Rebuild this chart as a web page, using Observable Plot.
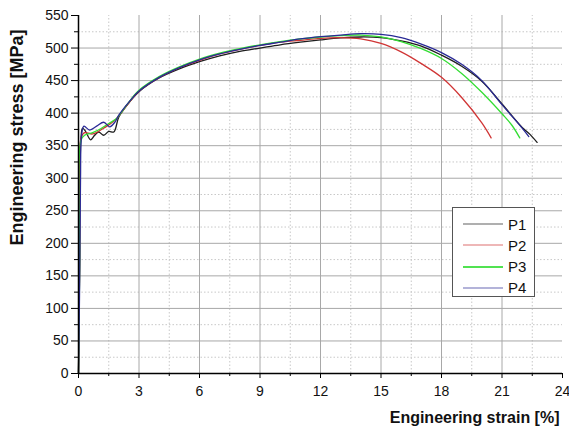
<!DOCTYPE html>
<html>
<head>
<meta charset="utf-8">
<script src="https://cdn.jsdelivr.net/npm/d3@7"></script>
<script src="https://cdn.jsdelivr.net/npm/@observablehq/plot@0.6"></script>
<style>
  body { margin: 0; background: #fff; font-family: "Liberation Sans", Arial, sans-serif; }
  #wrap { position: relative; width: 569px; height: 437px; }
  #legend { position: absolute; left: 452px; top: 207px; width: 81px; height: 88px;
            border: 1px solid #555; background: #fff; box-sizing: content-box; }
  .item { position: absolute; left: 0; height: 20px; display: flex; align-items: center; }
  .item svg { margin-left: 10px; }
  .item span { margin-left: 5px; font-size: 15px; color: #111; }
</style>
</head>
<body>
<div id="wrap"><div id="chart"></div><div id="legend"></div></div>
<script>
const seriesNames = ["P1", "P2", "P3", "P4"];
const seriesColors = ["#1e1e1e", "#d03535", "#33dd33", "#2a2a96"];

const strainP1 = [0, 0.06, 0.12, 0.2, 0.35, 0.6, 0.8, 1.0, 1.25, 1.5, 1.75, 2.0, 2.5, 3, 4, 5, 6, 7, 8, 9, 10, 11, 12, 13, 14, 15, 16, 17, 18, 19, 20, 21, 22, 22.4, 22.74];
const stressP1 = [0, 180, 360, 377, 372, 359, 366, 371, 366, 372, 371, 394, 416, 433, 454, 468, 479, 488, 495, 500, 505, 509, 512.5, 515.5, 517, 516, 511, 503, 489, 472, 449, 414, 378, 367, 355];

const strainP2 = [0, 0.06, 0.13, 0.3, 0.7, 1.2, 1.5, 1.8, 2.0, 2.5, 3, 4, 5, 6, 7, 8, 9, 10, 11, 12, 13, 14, 15, 16, 17, 18, 19, 20, 20.46];
const stressP2 = [0, 180, 362, 370, 368, 376, 382, 389, 396, 416, 434, 455, 470, 481, 491, 498, 504, 509, 512, 515, 516, 514, 507, 494, 476, 455, 424, 385, 362];

const strainP3 = [0, 0.06, 0.12, 0.3, 0.7, 1.1, 1.5, 1.9, 2.1, 2.5, 3, 4, 5, 6, 7, 8, 9, 10, 11, 12, 13, 14, 15, 16, 17, 18, 19, 20, 21, 21.5, 21.88];
const stressP3 = [0, 175, 358, 366, 370, 376, 384, 392, 400, 417, 435, 456, 471, 483, 492, 499, 505, 510, 514, 517, 519, 520, 517, 510, 499, 484, 461, 432, 399, 381, 362];

const strainP4 = [0, 0.05, 0.1, 0.15, 0.27, 0.55, 0.9, 1.25, 1.55, 1.8, 2.0, 2.5, 3, 4, 5, 6, 7, 8, 9, 10, 11, 12, 13, 14, 15, 16, 17, 18, 19, 20, 21, 22, 22.33];
const stressP4 = [0, 120, 300, 365, 380, 374, 380, 386, 379, 386, 397, 417, 434, 455, 470, 482, 491, 498, 504, 509, 514, 517.5, 520, 522, 521, 516, 506, 493, 475, 450, 413, 377, 364];

const xMajorTicks = [0, 3, 6, 9, 12, 15, 18, 21, 24];
const xMinorTicks = [1.5, 4.5, 7.5, 10.5, 13.5, 16.5, 19.5, 22.5];
const yMajorTicks = [0, 50, 100, 150, 200, 250, 300, 350, 400, 450, 500, 550];
const yMinorTicks = [25, 75, 125, 175, 225, 275, 325, 375, 425, 475, 525];

const xLabel = "Engineering strain [%]";
const yLabel = "Engineering stress [MPa]";

const allStrain = [strainP1, strainP2, strainP3, strainP4];
const allStress = [stressP1, stressP2, stressP3, stressP4];
const rows = [];
seriesNames.forEach((s, i) => {
  allStrain[i].forEach((x, j) => rows.push({series: s, strain: x, stress: allStress[i][j]}));
});

const chart = Plot.plot({
  width: 569, height: 437,
  marginLeft: 78, marginRight: 7, marginTop: 15, marginBottom: 64,
  style: {fontFamily: "'Liberation Sans', Arial, sans-serif", fontSize: "14px", color: "#111", background: "#fff"},
  x: {domain: [0, 24]},
  y: {domain: [0, 550]},
  color: {domain: seriesNames, range: seriesColors},
  marks: [
    Plot.ruleX(xMinorTicks, {y1: 0, y2: 550, stroke: "#c8c8c8", strokeDasharray: "1.5,2", strokeWidth: 1}),
    Plot.ruleY(yMinorTicks, {x1: 0, x2: 24, stroke: "#c8c8c8", strokeDasharray: "1.5,2", strokeWidth: 1}),
    Plot.ruleX(xMajorTicks.filter(d => d > 0 && d < 24), {y1: 0, y2: 550, stroke: "#a8a8a8", strokeWidth: 1}),
    Plot.ruleY(yMajorTicks.filter(d => d > 0 && d < 550), {x1: 0, x2: 24, stroke: "#a8a8a8", strokeWidth: 1}),
    Plot.line(rows, {x: "strain", y: "stress", z: "series", stroke: "series", strokeWidth: 1.3, curve: "catmull-rom"}),
    Plot.axisX({ticks: xMinorTicks, tickSize: 3, tickFormat: () => "", label: null, stroke: "#000"}),
    Plot.axisX({ticks: xMajorTicks, tickSize: 5, tickPadding: 8, label: null, fontSize: 14, stroke: "#000"}),
    Plot.axisY({ticks: yMinorTicks, tickSize: 4, tickFormat: () => "", label: null, stroke: "#000"}),
    Plot.axisY({ticks: yMajorTicks, tickSize: 7, tickPadding: 3, label: null, fontSize: 14, stroke: "#000"}),
    Plot.ruleX([0], {stroke: "#000", strokeWidth: 1.5}),
    Plot.ruleY([0], {stroke: "#000", strokeWidth: 1.5}),
    Plot.text([yLabel], {frameAnchor: "top-left", dx: -61, dy: 122, rotate: -90, text: d => d,
      fontWeight: "bold", fontSize: 18, fill: "#111", textAnchor: "middle", lineAnchor: "middle"}),
    Plot.text([xLabel], {frameAnchor: "bottom-right", dx: -3, dy: 44, text: d => d,
      fontWeight: "bold", fontSize: 16, fill: "#111", textAnchor: "end", lineAnchor: "middle"})
  ]
});
document.getElementById("chart").appendChild(chart);

const legend = document.getElementById("legend");
seriesNames.forEach((s, i) => {
  const item = document.createElement("div");
  item.className = "item";
  item.style.top = (6 + i * 21.3) + "px";
  item.innerHTML = `<svg width="40" height="4"><line x1="0" y1="2" x2="40" y2="2" stroke="${seriesColors[i]}" stroke-width="${i === 2 ? 2 : 1.2}" opacity="${i === 2 ? 0.85 : 0.7}"/></svg><span>${s}</span>`;
  legend.appendChild(item);
});
</script>
</body>
</html>
